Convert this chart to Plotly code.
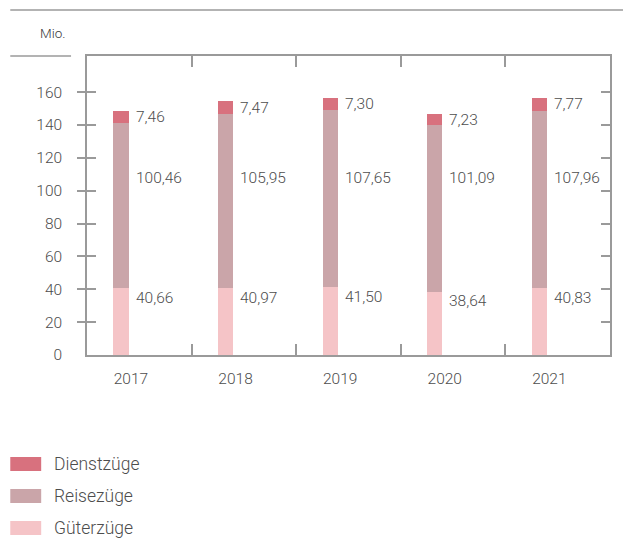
import plotly.graph_objects as go

years = ["2017", "2018", "2019", "2020", "2021"]
gueterzuege = [40.66, 40.97, 41.50, 38.64, 40.83]
reisezuege = [100.46, 105.95, 107.65, 101.09, 107.96]
dienstzuege = [7.46, 7.47, 7.30, 7.23, 7.77]

series_names = ["Dienstzüge", "Reisezüge", "Güterzüge"]
colors = {"Dienstzüge": "#d8717e", "Reisezüge": "#caa5a9", "Güterzüge": "#f5c4c7"}

FONT = "Roboto"
W = 300
TXT = "#4d4d4d"
AX = "#9a9a9a"
BAR_OFF = 0.325
BAR_W = 0.146
LBL_OFF = 0.42
REISE_LABEL_LEVEL = 108

xpos = [i + BAR_OFF for i in range(len(years))]

fig = go.Figure()
for name, vals in [("Güterzüge", gueterzuege), ("Reisezüge", reisezuege), ("Dienstzüge", dienstzuege)]:
    fig.add_trace(go.Bar(x=xpos, y=vals, width=BAR_W, name=name,
                         marker=dict(color=colors[name], line=dict(width=0)),
                         showlegend=False, hoverinfo="skip"))

def fmt(v):
    return f"{v:.2f}".replace(".", ",")

ann = []
for i in range(len(years)):
    xl = xpos[i] + BAR_W / 2
    g, r, d = gueterzuege[i], reisezuege[i], dienstzuege[i]
    for yv, v in [(g + r + d / 2, d), (REISE_LABEL_LEVEL, r), (g - 6, g)]:
        ann.append(dict(x=xl, y=yv, xref="x", yref="y", text=fmt(v), showarrow=False,
                        xanchor="left", yanchor="middle", xshift=5,
                        font=dict(family=FONT, size=15.5, color=TXT, weight=W)))

# "Mio." unit label
ann.append(dict(x=-0.0933, y=1.077, xref="paper", yref="paper", text="Mio.", showarrow=False,
                xanchor="left", yanchor="middle",
                font=dict(family=FONT, size=13.5, color="#3a3a3a", weight=W)))

shapes = [
    dict(type="line", xref="paper", yref="paper", x0=-0.1467, x1=1.03, y0=1.1538, y1=1.1538,
         line=dict(color=AX, width=1.5)),
    dict(type="line", xref="paper", yref="paper", x0=-0.1467, x1=-0.0305, y0=1.0, y1=1.0,
         line=dict(color=AX, width=1.5)),
]

# custom legend
leg_centers = [464, 496, 528]
for name, cy in zip(series_names, leg_centers):
    y0 = (355 - (cy - 7)) / 299
    y1 = (355 - (cy + 7)) / 299
    shapes.append(dict(type="rect", xref="paper", yref="paper", x0=-0.1467, x1=-0.0876,
                       y0=y1, y1=y0, fillcolor=colors[name], line=dict(width=0)))
    ann.append(dict(x=-0.0667, y=(355 - cy) / 299, xref="paper", yref="paper", text=name,
                    showarrow=False, xanchor="left", yanchor="middle",
                    font=dict(family=FONT, size=17.5, color=TXT, weight=W)))

fig.update_layout(
    width=623, height=539,
    margin=dict(l=87, r=11, t=56, b=184),
    paper_bgcolor="white", plot_bgcolor="white",
    barmode="stack", bargap=0,
    font=dict(family=FONT, size=15.5, color=TXT, weight=W),
    xaxis=dict(range=[0, 5], tickvals=[1, 2, 3, 4], showticklabels=False,
               ticks="inside", ticklen=11, tickwidth=1.5, tickcolor=AX,
               showline=True, linecolor=AX, linewidth=1.5, mirror="ticks",
               showgrid=False, zeroline=False, fixedrange=True),
    xaxis2=dict(range=[0, 5], overlaying="x", anchor="y", side="bottom",
                tickvals=[i + LBL_OFF for i in range(len(years))], ticktext=years,
                ticks="", showline=False, showgrid=False, zeroline=False,
                ticklabelstandoff=12, tickfont=dict(family=FONT, size=15.5, color=TXT, weight=W)),
    yaxis=dict(range=[0, 182], tickvals=[0, 20, 40, 60, 80, 100, 120, 140, 160],
               ticks="inside", ticklen=9, tickwidth=1.5, tickcolor=AX,
               showline=True, linecolor=AX, linewidth=1.5, mirror="ticks",
               showgrid=False, zeroline=False, ticklabelstandoff=20,
               tickfont=dict(family=FONT, size=15.5, color=TXT, weight=W)),
    yaxis2=dict(range=[0, 182], overlaying="y", anchor="x", side="left",
                tickvals=[20, 40, 60, 80, 100, 120, 140, 160], showticklabels=False,
                ticks="outside", ticklen=9, tickwidth=1.5, tickcolor=AX,
                showline=False, showgrid=False, zeroline=False),
    annotations=ann, shapes=shapes,
)

# invisible trace to activate the overlay axes
fig.add_trace(go.Scatter(x=[0], y=[0], xaxis="x2", yaxis="y2", mode="markers",
                         marker=dict(opacity=0), showlegend=False, hoverinfo="skip"))

fig.write_html("out.html")
